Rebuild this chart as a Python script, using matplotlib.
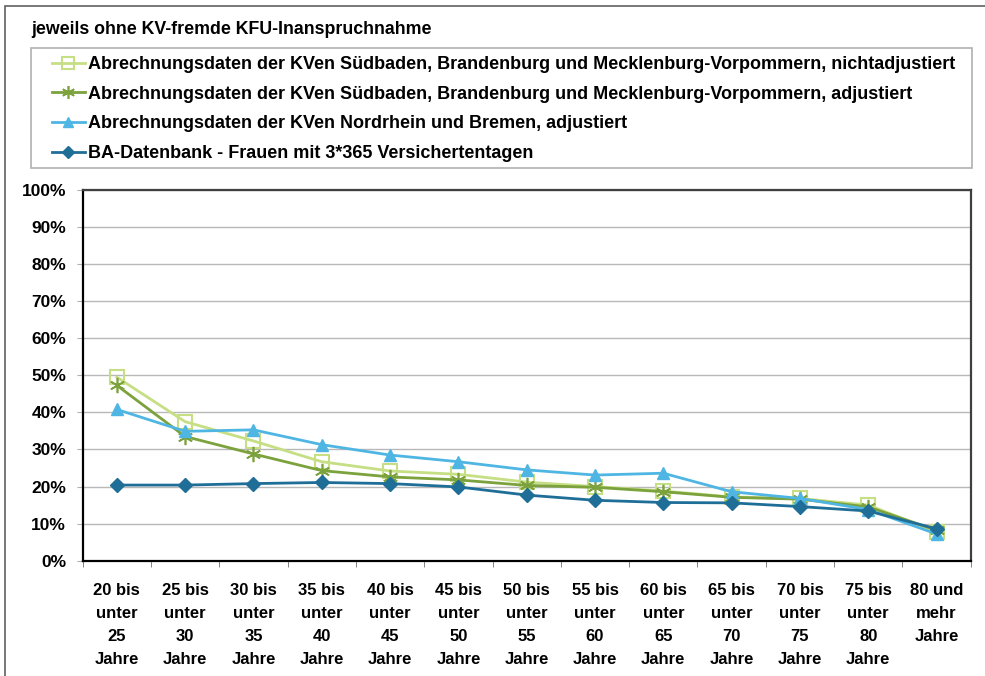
import matplotlib
matplotlib.use("Agg")
import matplotlib.pyplot as plt
from matplotlib.patches import Rectangle
from matplotlib.ticker import FixedLocator, PercentFormatter

plt.rcParams['font.family'] = ['Liberation Sans', 'DejaVu Sans']
plt.rcParams['font.weight'] = 'bold'

categories = [
    "20 bis\nunter\n25\nJahre", "25 bis\nunter\n30\nJahre", "30 bis\nunter\n35\nJahre",
    "35 bis\nunter\n40\nJahre", "40 bis\nunter\n45\nJahre", "45 bis\nunter\n50\nJahre",
    "50 bis\nunter\n55\nJahre", "55 bis\nunter\n60\nJahre", "60 bis\nunter\n65\nJahre",
    "65 bis\nunter\n70\nJahre", "70 bis\nunter\n75\nJahre", "75 bis\nunter\n80\nJahre",
    "80 und\nmehr\nJahre",
]

suedbaden_nicht_adj = [49.5, 37.5, 32.3, 26.7, 24.2, 23.3, 21.2, 20.0, 18.8, 17.2, 16.8, 15.0, 7.8]
suedbaden_adj = [47.3, 33.5, 28.8, 24.3, 22.6, 21.8, 20.3, 19.8, 18.6, 17.1, 16.6, 14.5, 8.2]
nordrhein_adj = [40.8, 34.9, 35.3, 31.3, 28.5, 26.7, 24.5, 23.1, 23.6, 18.6, 16.8, 13.8, 7.2]
ba_datenbank = [20.4, 20.4, 20.8, 21.1, 20.8, 19.9, 17.7, 16.3, 15.7, 15.6, 14.6, 13.4, 8.6]

labels = [
    "Abrechnungsdaten der KVen Südbaden, Brandenburg und Mecklenburg-Vorpommern, nichtadjustiert",
    "Abrechnungsdaten der KVen Südbaden, Brandenburg und Mecklenburg-Vorpommern, adjustiert",
    "Abrechnungsdaten der KVen Nordrhein und Bremen, adjustiert",
    "BA-Datenbank - Frauen mit 3*365 Versichertentagen",
]
title = "jeweils ohne KV-fremde KFU-Inanspruchnahme"

W, H = 985, 676
fig = plt.figure(figsize=(W / 100, H / 100), dpi=100)

def fx(px):
    return px / W

def fy(py):
    return 1 - py / H

# outer border
fig.patches.append(Rectangle((fx(5), fy(700)), fx(1000), fy(6) - fy(700), transform=fig.transFigure,
                             fill=False, edgecolor='#606060', linewidth=1.2))
# legend frame
fig.patches.append(Rectangle((fx(30.7), fy(168)), fx(972) - fx(30.7), fy(48.3) - fy(168),
                             transform=fig.transFigure, fill=False, edgecolor='#b0b0b0', linewidth=1.2))

ax = fig.add_axes([fx(82.7), fy(560.7), fx(970.7) - fx(82.7), fy(190) - fy(560.7)])

x = list(range(len(categories)))
l1, = ax.plot(x, suedbaden_nicht_adj, color='#c6de84', lw=2, marker='s', markersize=10,
              markerfacecolor='none', markeredgecolor='#c6de84', markeredgewidth=1.5, zorder=3)
l2, = ax.plot(x, suedbaden_adj, color='#7ba23c', lw=2, marker=(6, 2, 0), markersize=11,
              markeredgecolor='#7ba23c', markeredgewidth=1.2, zorder=4)
l3, = ax.plot(x, nordrhein_adj, color='#4fb6e3', lw=2, marker='^', markersize=8,
              markerfacecolor='#4fb6e3', markeredgecolor='#4fb6e3', zorder=5)
l4, = ax.plot(x, ba_datenbank, color='#1f6e98', lw=2, marker='D', markersize=7,
              markerfacecolor='#1f6e98', markeredgecolor='#1f6e98', zorder=6)

ax.set_xlim(-0.5, len(categories) - 0.5)
ax.set_ylim(0, 100)
ax.set_yticks(range(0, 101, 10))
ax.yaxis.set_major_formatter(PercentFormatter(decimals=0))
ax.grid(axis='y', color='#b8b8b8', lw=1)
ax.set_axisbelow(True)

ax.set_xticks(x)
ax.set_xticklabels(categories, fontsize=12, fontweight='bold', linespacing=1.66, va='top')
ax.xaxis.set_minor_locator(FixedLocator([i - 0.5 for i in range(len(categories) + 1)]))
ax.tick_params(axis='x', which='major', length=0, pad=16)
ax.tick_params(axis='x', which='minor', length=4, color='#707070', direction='out')
ax.tick_params(axis='y', length=4, color='#b0b0b0', pad=8, labelsize=12.5)
for t in ax.get_yticklabels():
    t.set_fontweight('bold')

for s in ['left', 'bottom']:
    ax.spines[s].set_color('#000000')
    ax.spines[s].set_linewidth(1.6)
for s in ['top', 'right']:
    ax.spines[s].set_color('#404040')
    ax.spines[s].set_linewidth(1.6)

fig.text(fx(31), fy(29), title, fontsize=12.8, fontweight='bold', ha='left', va='center')

leg = fig.legend([l1, l2, l3, l4], labels, loc='upper left',
                 bbox_to_anchor=(fx(51.7), fy(56)),
                 frameon=False, prop={'size': 13, 'weight': 'bold'},
                 handlelength=1.83, handletextpad=0.17,
                 labelspacing=0.70, borderpad=0, borderaxespad=0, markerscale=0.85)

fig.savefig("out.png", dpi=100)
